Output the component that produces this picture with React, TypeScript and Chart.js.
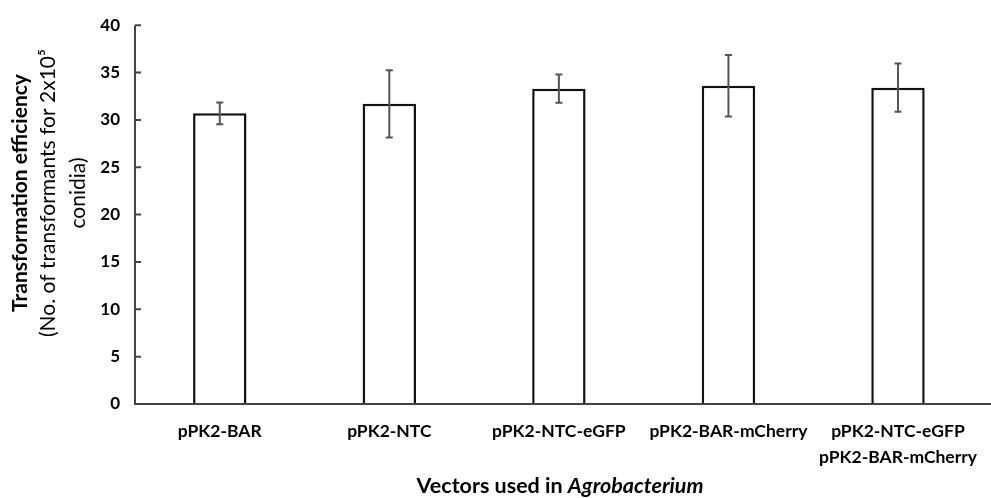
import React, { useEffect, useRef } from "react";
import { Chart, registerables } from "chart.js";

Chart.register(...registerables);

const categories: (string | string[])[] = [
  "pPK2-BAR",
  "pPK2-NTC",
  "pPK2-NTC-eGFP",
  "pPK2-BAR-mCherry",
  ["pPK2-NTC-eGFP", "pPK2-BAR-mCherry"],
];
const means = [30.7, 31.7, 33.3, 33.6, 33.4];
const errors = [1.15, 3.55, 1.5, 3.25, 2.55];
const yTicks = [0, 5, 10, 15, 20, 25, 30, 35, 40];

const FONT = "Lato, 'Open Sans', sans-serif";

const overlayPlugin = {
  id: "overlay",
  afterDatasetsDraw(chart: any) {
    const ctx = chart.ctx;
    const x = chart.scales.x;
    const y = chart.scales.y;
    const area = chart.chartArea;
    ctx.save();
    // error bars
    ctx.strokeStyle = "#555";
    ctx.lineWidth = 2;
    means.forEach((m, i) => {
      const cx = x.getPixelForValue(i);
      const t = y.getPixelForValue(m + errors[i]);
      const b = y.getPixelForValue(m - errors[i]);
      ctx.beginPath();
      ctx.moveTo(cx, t);
      ctx.lineTo(cx, b);
      ctx.moveTo(cx - 3.5, t);
      ctx.lineTo(cx + 3.5, t);
      ctx.moveTo(cx - 3.5, b);
      ctx.lineTo(cx + 3.5, b);
      ctx.stroke();
    });
    // axes
    ctx.strokeStyle = "#444";
    ctx.lineWidth = 2;
    ctx.beginPath();
    ctx.moveTo(area.left, y.getPixelForValue(40));
    ctx.lineTo(area.left, area.bottom);
    ctx.lineTo(chart.width, area.bottom);
    yTicks.forEach((v) => {
      const py = y.getPixelForValue(v);
      ctx.moveTo(area.left, py);
      ctx.lineTo(area.left + 6, py);
    });
    ctx.stroke();

    // y title
    ctx.fillStyle = "#000";
    ctx.textAlign = "center";
    ctx.textBaseline = "middle";
    const cy = 193;
    const drawRot = (text: string, px: number, font: string) => {
      ctx.save();
      ctx.translate(px, cy);
      ctx.rotate(-Math.PI / 2);
      ctx.font = font;
      ctx.fillText(text, 0, 0);
      ctx.restore();
    };
    drawRot("Transformation efficiency", 20, `bold 21px ${FONT}`);
    drawRot("(No. of transformants for 2x10⁵", 48, `21px ${FONT}`);
    drawRot("conidia)", 78, `21px ${FONT}`);

    // x title with italic part
    const p1 = "Vectors used in ";
    const p2 = "Agrobacterium";
    ctx.font = `bold 21.5px ${FONT}`;
    const w1 = ctx.measureText(p1).width;
    ctx.font = `italic bold 21.5px ${FONT}`;
    const w2 = ctx.measureText(p2).width;
    const start = 560 - (w1 + w2) / 2;
    ctx.textAlign = "left";
    ctx.font = `bold 21.5px ${FONT}`;
    ctx.fillText(p1, start, 486);
    ctx.font = `italic bold 21.5px ${FONT}`;
    ctx.fillText(p2, start + w1, 486);
    ctx.restore();
  },
};

export default function App() {
  const ref = useRef<HTMLCanvasElement>(null);
  useEffect(() => {
    if (!ref.current) return;
    const chart = new Chart(ref.current, {
      type: "bar",
      data: {
        labels: categories as any,
        datasets: [
          {
            data: means,
            backgroundColor: "#fff",
            borderColor: "#111",
            borderWidth: 2.5,
            borderSkipped: "bottom",
            barPercentage: 0.315,
            categoryPercentage: 1,
          },
        ],
      },
      options: {
        animation: false,
        responsive: false,
        devicePixelRatio: 1,
        layout: { padding: { left: 0, right: 0, top: 20, bottom: 0 } },
        plugins: { legend: { display: false }, tooltip: { enabled: false } },
        scales: {
          x: {
            grid: { display: false, drawTicks: false },
            border: { display: false },
            ticks: {
              color: "#000",
              font: { family: FONT, size: 17.5, weight: "bold", lineHeight: 1.5 },
              padding: 14,
              maxRotation: 0,
              autoSkip: false,
            },
            afterFit(s: any) {
              s.height = 94;
            },
          },
          y: {
            min: 0,
            max: 40,
            grid: { display: false, drawTicks: false },
            border: { display: false },
            ticks: {
              stepSize: 5,
              color: "#000",
              font: { family: FONT, size: 17, weight: "bold" },
              padding: 15,
            },
            afterFit(s: any) {
              s.width = 135;
            },
          },
        },
      },
      plugins: [overlayPlugin],
    });
    return () => chart.destroy();
  }, []);
  return (
    <div style={{ position: "fixed", left: 0, top: 0, width: 991, height: 498, background: "#fff" }}>
      <canvas ref={ref} width={991} height={498} />
    </div>
  );
}
